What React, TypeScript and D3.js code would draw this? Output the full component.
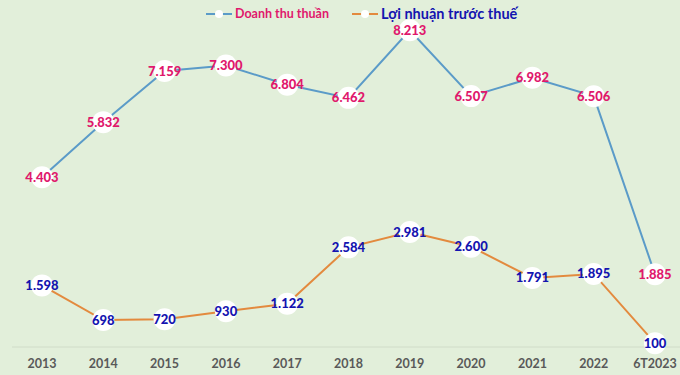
import React, { useRef, useEffect } from "react";
import * as d3 from "d3";

const years = ["2013", "2014", "2015", "2016", "2017", "2018", "2019", "2020", "2021", "2022", "6T2023"];
const revenue = [4403, 5832, 7159, 7300, 6804, 6462, 8213, 6507, 6982, 6506, 1885];
const profit = [1598, 698, 720, 930, 1122, 2584, 2981, 2600, 1791, 1895, 100];
const seriesNames = ["Doanh thu thuần", "Lợi nhuận trước thuế"];

const fmt = (v: number) =>
  v >= 1000 ? d3.format(",")(v).replace(/,/g, ".") : String(v);

export default function App() {
  const svgRef = useRef<SVGSVGElement>(null);

  useEffect(() => {
    const svg = d3.select(svgRef.current);
    svg.selectAll("*").remove();

    const width = 680;
    const height = 375;
    const font = "Lato, 'Open Sans', sans-serif";

    svg.append("rect").attr("width", width).attr("height", height).attr("fill", "#e2efda");

    const x = d3.scalePoint().domain(years).range([42, 655]);
    const y = d3.scaleLinear().domain([0, 9000]).range([347, 0]);

    // baseline
    svg
      .append("line")
      .attr("x1", 12)
      .attr("x2", 680)
      .attr("y1", y(0))
      .attr("y2", y(0))
      .attr("stroke", "#d0dcc8")
      .attr("stroke-width", 1);

    // x labels
    svg
      .append("g")
      .selectAll("text")
      .data(years)
      .enter()
      .append("text")
      .attr("x", (d) => x(d)!)
      .attr("y", 368)
      .attr("text-anchor", "middle")
      .attr("font-family", font)
      .attr("font-weight", "bold")
      .attr("font-size", 12.5)
      .attr("fill", "#595959")
      .text((d) => d);

    const series = [
      { values: revenue, line: "#5b9bc8", label: "#e0186c" },
      { values: profit, line: "#e38a3e", label: "#1414b0" },
    ];

    const line = d3
      .line<number>()
      .x((_, i) => x(years[i])!)
      .y((d) => y(d));

    series.forEach((s) => {
      svg
        .append("path")
        .datum(s.values)
        .attr("d", line)
        .attr("fill", "none")
        .attr("stroke", s.line)
        .attr("stroke-width", 2);
    });

    series.forEach((s) => {
      const g = svg.append("g");
      g.selectAll("circle")
        .data(s.values)
        .enter()
        .append("circle")
        .attr("cx", (_, i) => x(years[i])!)
        .attr("cy", (d) => y(d))
        .attr("r", 11)
        .attr("fill", "white");
      g.selectAll("text")
        .data(s.values)
        .enter()
        .append("text")
        .attr("x", (_, i) => x(years[i])!)
        .attr("y", (d) => y(d))
        .attr("dy", "0.35em")
        .attr("text-anchor", "middle")
        .attr("font-family", font)
        .attr("font-weight", "900")
        .attr("font-size", 13)
        .attr("fill", s.label)
        .text((d) => fmt(d));
    });

    // legend
    const legend = [
      { x: 206, color: "#5b9bc8", text: "#e0186c", size: 12.5 },
      { x: 352, color: "#e38a3e", text: "#1414b0", size: 14.5 },
    ];
    legend.forEach((l, i) => {
      const g = svg.append("g").attr("transform", `translate(${l.x},14)`);
      g.append("line").attr("x1", 0).attr("x2", 26).attr("stroke", l.color).attr("stroke-width", 2);
      g.append("circle").attr("cx", 13).attr("r", 4).attr("fill", "white");
      g.append("text")
        .attr("x", 29)
        .attr("dy", "0.35em")
        .attr("font-family", font)
        .attr("font-weight", "bold")
        .attr("font-size", l.size)
        .attr("fill", l.text)
        .text(seriesNames[i]);
    });
  }, []);

  return (
    <div style={{ position: "absolute", left: 0, top: 0, width: 680, height: 375, overflow: "hidden" }}>
      <svg ref={svgRef} width={680} height={375} style={{ display: "block" }}></svg>
    </div>
  );
}
